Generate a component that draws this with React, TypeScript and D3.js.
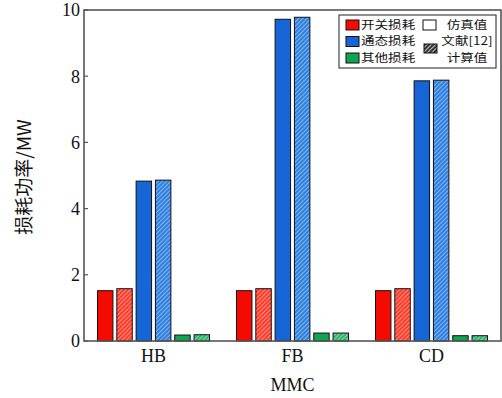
import React from "react";
import * as d3 from "d3";

const categories = ["HB", "FB", "CD"];
const seriesKeys = ["switchSim", "switchRef", "condSim", "condRef", "otherSim", "otherRef"];
const switchSim = [1.52, 1.52, 1.52];
const switchRef = [1.58, 1.58, 1.58];
const condSim = [4.83, 9.72, 7.86];
const condRef = [4.86, 9.78, 7.88];
const otherSim = [0.18, 0.24, 0.16];
const otherRef = [0.19, 0.24, 0.16];
const yTicks = [0, 2, 4, 6, 8, 10];
const legendLoss = ["开关损耗", "通态损耗", "其他损耗"];

const seriesValues: Record<string, number[]> = { switchSim, switchRef, condSim, condRef, otherSim, otherRef };
const baseColors = ["#f50a00", "#f50a00", "#1565d6", "#1565d6", "#0ea552", "#0ea552"];
const hatched = [false, true, false, true, false, true];

const W = 502, H = 398;
const left = 84, right = 501, top = 10, bottom = 341;

export default function App() {
  const x = d3.scaleBand<string>().domain(categories).range([left, right]).padding(0);
  const step = x.bandwidth();
  const inner = d3.scaleBand<string>().domain(seriesKeys).range([(step - 112) / 2, (step + 112) / 2]).paddingInner(0.2);
  const y = d3.scaleLinear().domain([0, 10]).range([bottom, top]);
  const serif = "'Liberation Serif', 'Times New Roman', serif";
  const cjk = "'Noto Sans CJK SC', sans-serif";
  const lf = 11.3;
  const sx = 1.2;

  const LegendText = ({ x0, y0, anchor, children }: { x0: number; y0: number; anchor?: string; children: string }) => (
    <text transform={`translate(${x0},${y0}) scale(${sx},1)`} dy="0.35em" textAnchor={anchor || "start"}
      fontFamily={cjk} fontSize={lf} fill="#111">{children}</text>
  );

  return (
    <svg width={W} height={H} style={{ position: "absolute", left: 0, top: 0, background: "#fff" }}>
      <defs>
        {["red", "blue", "green", "gray"].map((k, i) => {
          const base = ["#ff3b2a", "#2f7fe0", "#2bb56a", "#333"][i];
          const stripe = ["#ffb3a8", "#a8cdf5", "#b0e6c6", "#fff"][i];
          return (
            <pattern key={k} id={"hatch-" + k} patternUnits="userSpaceOnUse" width={3} height={3} patternTransform="rotate(45)">
              <rect width={3} height={3} fill={base} />
              <line x1={0} y1={0} x2={0} y2={3} stroke={stripe} strokeWidth={1.4} />
            </pattern>
          );
        })}
      </defs>

      {/* bars */}
      {categories.map((c, ci) => (
        <g key={c} transform={`translate(${x(c)},0)`}>
          {seriesKeys.map((k, si) => {
            const v = seriesValues[k][ci];
            const fill = hatched[si] ? `url(#hatch-${["red", "red", "blue", "blue", "green", "green"][si]})` : baseColors[si];
            return (
              <rect key={k} x={inner(k)} y={y(v)} width={inner.bandwidth()} height={y(0) - y(v)}
                fill={fill} stroke="#111" strokeWidth={1} />
            );
          })}
        </g>
      ))}

      {/* frame */}
      <rect x={left} y={top} width={right - left} height={bottom - top} fill="none" stroke="#555" strokeWidth={1.6} />

      {/* y ticks */}
      {yTicks.map(t => (
        <g key={t}>
          <line x1={left} x2={left + 4} y1={y(t)} y2={y(t)} stroke="#555" strokeWidth={1.2} />
          <text x={80} y={y(t)} dy="0.35em" textAnchor="end" fontFamily={serif} fontSize={18} fill="#111">{t}</text>
        </g>
      ))}

      {/* x labels */}
      {categories.map(c => (
        <text key={c} x={(x(c) as number) + step / 2} y={362} textAnchor="middle" fontFamily={serif} fontSize={18} fill="#111">{c}</text>
      ))}
      <text x={(left + right) / 2} y={391} textAnchor="middle" fontFamily={serif} fontSize={18} fill="#111">MMC</text>

      {/* y label */}
      <text transform={`translate(31,177) rotate(-90)`} textAnchor="middle" fontFamily={cjk} fontSize={19} fill="#111">损耗功率/MW</text>

      {/* legend */}
      <g>
        <rect x={339} y={15} width={157} height={53} fill="#fff" stroke="#444" strokeWidth={1.2} />
        {legendLoss.map((l, i) => (
          <g key={l}>
            <rect x={346} y={20 + i * 16.5} width={13} height={10} fill={baseColors[i * 2]} stroke="#111" strokeWidth={1} />
            <LegendText x0={361} y0={25 + i * 16.5}>{l}</LegendText>
          </g>
        ))}
        <rect x={423} y={20} width={13} height={10} fill="#fff" stroke="#111" strokeWidth={1} />
        <LegendText x0={467} y0={25} anchor="middle">仿真值</LegendText>
        <rect x={424} y={44} width={13} height={9} fill="url(#hatch-gray)" stroke="#111" strokeWidth={1} />
        <LegendText x0={467} y0={41.5} anchor="middle">文献[12]</LegendText>
        <LegendText x0={467} y0={58} anchor="middle">计算值</LegendText>
      </g>
    </svg>
  );
}
